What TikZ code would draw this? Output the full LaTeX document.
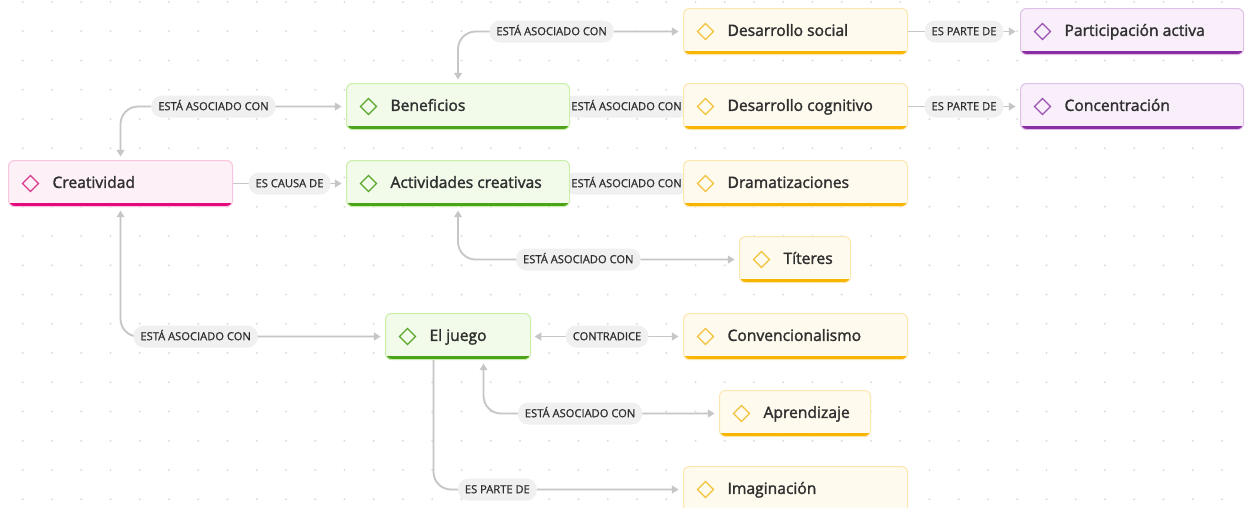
\documentclass[tikz,border=0pt]{standalone}
\usepackage{fontspec}
\setmainfont{Open Sans}
\newfontfamily\cardfont[FakeBold=1.8]{Open Sans}
\newfontfamily\labfont[FakeBold=0.8]{Open Sans}
\usetikzlibrary{arrows.meta,calc}
\pgfdeclarelayer{grid}
\pgfdeclarelayer{bg}
\pgfsetlayers{grid,bg,main}
\newlength\pxu
\setlength\pxu{0.02cm}
\newcommand\cw[2]{\makebox[#1\pxu][l]{\hspace{44\pxu}#2}}
\definecolor{pinkF}{HTML}{FDF0F7}
\definecolor{pinkB}{HTML}{F7C5DF}
\definecolor{pinkBar}{HTML}{E5097F}
\definecolor{pinkD}{HTML}{D9388C}
\definecolor{greenF}{HTML}{F2FBEA}
\definecolor{greenB}{HTML}{C9EFAA}
\definecolor{greenBar}{HTML}{4BA319}
\definecolor{greenD}{HTML}{5AA62A}
\definecolor{yellowF}{HTML}{FFFAEE}
\definecolor{yellowB}{HTML}{FCE7B0}
\definecolor{yellowBar}{HTML}{F7B500}
\definecolor{yellowD}{HTML}{F2C23A}
\definecolor{purpleF}{HTML}{F8EFFA}
\definecolor{purpleB}{HTML}{E0C0E9}
\definecolor{purpleBar}{HTML}{8A2FA3}
\definecolor{purpleD}{HTML}{9B50B4}
\definecolor{txt}{HTML}{303030}
\definecolor{labtxt}{HTML}{2E2E2E}
\definecolor{labg}{HTML}{F0F0F0}
\definecolor{lineg}{HTML}{C6C6C6}
\definecolor{dotc}{HTML}{DDDDDD}
\tikzset{
  card/.style={draw=#1B, fill=#1F, line width=0.6pt, rounded corners=3.4pt,
    inner sep=0pt, minimum height=46\pxu, anchor=north west,
    text=txt, font=\cardfont\fontsize{8.9}{10}\selectfont,
    text height=7pt, text depth=2pt,
    path picture={
      \fill[#1Bar, sharp corners] ($(path picture bounding box.south west)+(0,-4)$) rectangle (path picture bounding box.south east);
      \draw[#1D, line width=0.7pt, sharp corners] ($(path picture bounding box.west)+(14,0)$) -- ++(8,-8) -- ++(8,8) -- ++(-8,8) -- cycle;
    }},
  lab/.style={fill=labg, rounded corners=6pt, inner xsep=4pt, inner ysep=0pt,
    minimum height=22\pxu, text=labtxt, font=\labfont\fontsize{6.35}{7}\selectfont,
    text height=4.7pt, text depth=0.5pt},
  conn/.style={draw=lineg, line width=1.05pt, rounded corners=10pt},
  arr/.style={-{Triangle[length=3.8pt,width=4.4pt]}, shorten >=2.5pt},
  darr/.style={{Triangle[length=3.8pt,width=4.4pt]}-{Triangle[length=3.8pt,width=4.4pt]}, shorten >=2.5pt, shorten <=2pt},
}
\begin{document}
\begin{tikzpicture}[x=0.02cm, y=-0.02cm]
\useasboundingbox (0,0) rectangle (1247,507);
\begin{pgfonlayer}{grid}
\fill[white] (0,0) rectangle (1247,507);
\foreach \i in {0,...,42}{\foreach \j in {0,...,17}{
  \fill[dotc] (22.7+29.25*\i, 2+29.25*\j) circle[radius=0.65pt];}}
\end{pgfonlayer}
% nodes
\node[card=pink] (crea) at (8,160) {\cw{224}{Creatividad}};
\node[card=green] (ben) at (346,83) {\cw{223}{Beneficios}};
\node[card=green] (act) at (346,160) {\cw{223}{Actividades creativas}};
\node[card=green] (juego) at (385,313) {\cw{145}{El juego}};
\node[card=yellow] (dsoc) at (683,8) {\cw{224}{Desarrollo social}};
\node[card=yellow] (dcog) at (683,83) {\cw{224}{Desarrollo cognitivo}};
\node[card=yellow] (dram) at (683,160) {\cw{224}{Dramatizaciones}};
\node[card=yellow] (tit) at (739,236) {\cw{111}{Títeres}};
\node[card=yellow] (conv) at (683,313) {\cw{224}{Convencionalismo}};
\node[card=yellow] (apr) at (719,390) {\cw{151}{Aprendizaje}};
\node[card=yellow] (imag) at (683,466) {\cw{224}{Imaginación}};
\node[card=purple] (part) at (1020,8) {\cw{223}{Participación activa}};
\node[card=purple] (conc) at (1020,83) {\cw{223}{Concentración}};
\coordinate (j1) at ($(juego.south)+(25.5,0)$);
\coordinate (j2) at ($(juego.south)+(-24.5,0)$);
% connectors
\begin{pgfonlayer}{bg}
\draw[conn, darr] (crea.north) |- node[lab, pos=0.706]{ESTÁ ASOCIADO CON} (ben.west);
\draw[conn, arr] (crea.east) -- node[lab]{ES CAUSA DE} (act.west);
\draw[conn, darr] (crea.south) |- node[lab, pos=0.642]{ESTÁ ASOCIADO CON} (juego.west);
\draw[conn, darr] (ben.north) |- node[lab, pos=0.708]{ESTÁ ASOCIADO CON} (dsoc.west);
\draw[conn] (ben.east) -- node[lab]{ESTÁ ASOCIADO CON} (dcog.west);
\draw[conn] (act.east) -- node[lab]{ESTÁ ASOCIADO CON} (dram.west);
\draw[conn, darr] (act.south) |- node[lab, pos=0.714]{ESTÁ ASOCIADO CON} (tit.west);
\draw[conn, darr] (juego.east) -- node[lab]{CONTRADICE} (conv.west);
\draw[conn, darr] (j1) |- node[lab, pos=0.705]{ESTÁ ASOCIADO CON} (apr.west);
\draw[conn, arr] (j2) |- node[lab, pos=0.628]{ES PARTE DE} (imag.west);
\draw[conn, arr] (dsoc.east) -- node[lab]{ES PARTE DE} (part.west);
\draw[conn, arr] (dcog.east) -- node[lab]{ES PARTE DE} (conc.west);
\end{pgfonlayer}
\end{tikzpicture}
\end{document}
